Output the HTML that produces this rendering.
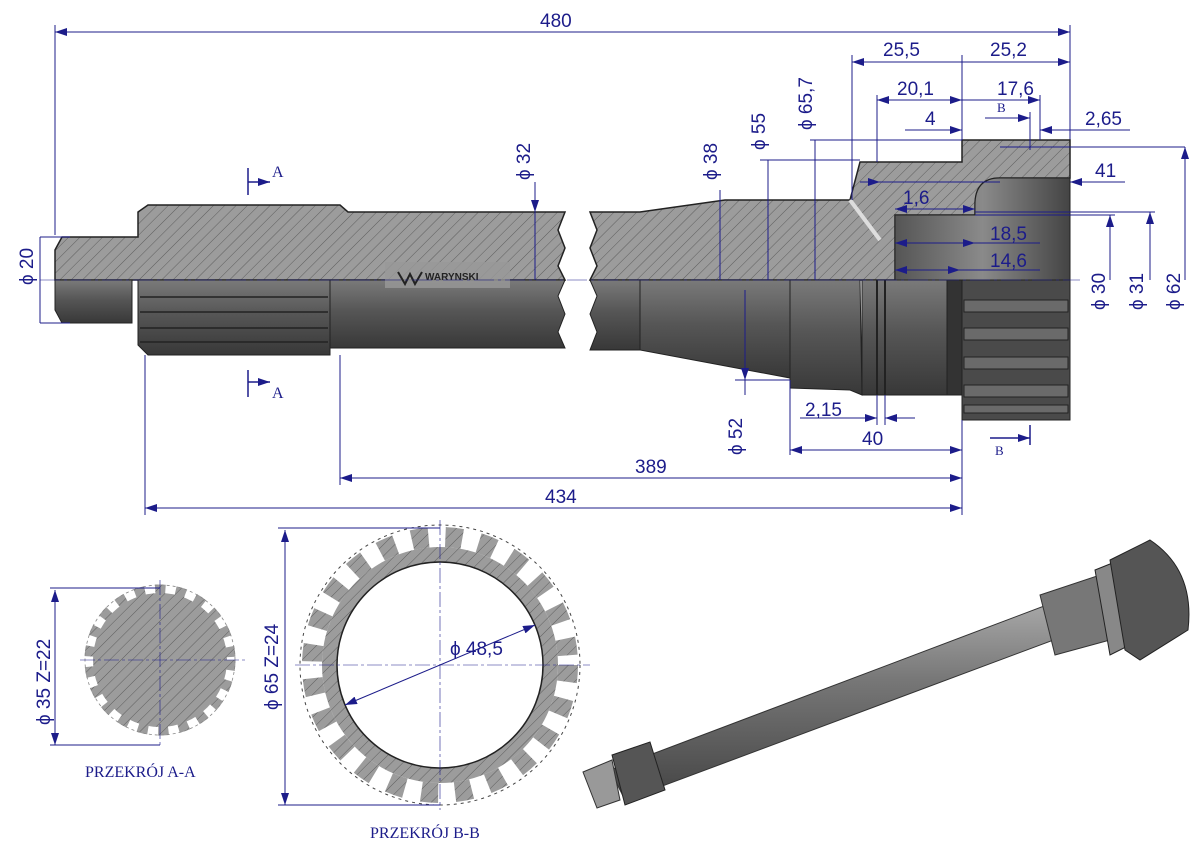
<!DOCTYPE html>
<html><head><meta charset="utf-8"><style>
html,body{margin:0;padding:0;background:#fff;}
svg{display:block;}
text{font-family:"Liberation Sans",sans-serif;fill:#1c1c8a;font-size:19px;}
.s{font-family:"Liberation Serif",serif;font-size:16px;}
</style></head><body>
<svg width="1200" height="849" viewBox="0 0 1200 849" xmlns="http://www.w3.org/2000/svg">
<defs>
<pattern id="h" width="8" height="8" patternUnits="userSpaceOnUse" patternTransform="rotate(45)">
<rect width="8" height="8" fill="#9c9c9c"/><line x1="0" y1="0" x2="0" y2="8" stroke="#5e5e5e" stroke-width="1"/></pattern>
<linearGradient id="g" x1="0" y1="0" x2="0" y2="1">
<stop offset="0" stop-color="#7a7a7a"/><stop offset="0.45" stop-color="#565656"/><stop offset="1" stop-color="#383838"/></linearGradient>
<linearGradient id="g2" x1="0" y1="0" x2="1" y2="0">
<stop offset="0" stop-color="#555"/><stop offset="0.5" stop-color="#8a8a8a"/><stop offset="1" stop-color="#444"/></linearGradient>
<linearGradient id="g3" x1="0" y1="0" x2="0" y2="1">
<stop offset="0" stop-color="#aaa"/><stop offset="0.4" stop-color="#777"/><stop offset="1" stop-color="#444"/></linearGradient>
<marker id="a" markerWidth="12" markerHeight="8" refX="12" refY="4" orient="auto-start-reverse" markerUnits="userSpaceOnUse"><path d="M0,0 L12,4 L0,8z" fill="#1c1c8a"/></marker>
</defs>
<g stroke="#1c1c8a" stroke-width="1" fill="none">
<line x1="55" y1="32" x2="1070" y2="32" marker-start="url(#a)" marker-end="url(#a)"/>
<line x1="55" y1="25" x2="55" y2="235"/><line x1="1070" y1="25" x2="1070" y2="140"/>
</g>
<text x="540" y="27">480</text>

<!-- LEFT shaft upper hatched -->
<path d="M55,280 L55,250 L62,237 L138,237 L138,212 L148,205 L340,205 L348,212 L565,212 L558,230 L565,248 L558,266 L565,280 Z" fill="url(#h)" stroke="#222" stroke-width="1.5"/>
<path d="M55,280 L55,310 L62,323 L132,323 L132,280 Z" fill="url(#g)" stroke="#222"/>
<path d="M138,280 L330,280 L330,355 L148,355 L138,345 Z" fill="url(#g)" stroke="#222"/>
<g stroke="#222" stroke-width="1.5"><line x1="140" y1="297" x2="328" y2="297"/><line x1="140" y1="312" x2="328" y2="312"/><line x1="140" y1="328" x2="328" y2="328"/><line x1="140" y1="342" x2="328" y2="342"/></g>
<path d="M330,280 L565,280 L558,296 L565,314 L558,332 L565,348 L330,348 Z" fill="url(#g)" stroke="#222"/>
<rect x="385" y="262" width="125" height="26" fill="#999" opacity="0.8"/>
<text x="425" y="280" style="font-size:10px;font-weight:bold;fill:#222">WARYNSKI</text>
<path d="M398,272 L405,284 L410,274 L415,284 L422,272" stroke="#222" stroke-width="2" fill="none"/>

<!-- RIGHT shaft -->
<path d="M590,212 L640,212 L725,200 L850,200 L860,162 L962,162 L962,140 L1070,140 L1070,178 L1000,178 Q975,178 975,205 L975,215 L895,215 L895,280 L590,280 L597,266 L590,248 L597,230 Z" fill="url(#h)" stroke="#222" stroke-width="1.5"/>
<path d="M850,200 L880,240" stroke="#ddd" stroke-width="4"/>
<path d="M895,215 L975,215 L975,205 Q975,178 1000,178 L1070,178 L1070,280 L895,280 Z" fill="url(#g2)" stroke="#222"/>
<path d="M590,280 L640,280 L640,350 L590,350 L597,332 L590,314 L597,296 Z" fill="url(#g)" stroke="#222"/>
<path d="M640,280 L790,280 L790,378 L640,350 Z" fill="url(#g)" stroke="#222"/>
<path d="M790,280 L860,280 L862,395 L850,390 L790,388 Z" fill="url(#g)" stroke="#222"/>
<rect x="862" y="280" width="85" height="115" fill="url(#g)" stroke="#222"/>
<line x1="877" y1="280" x2="877" y2="395" stroke="#222" stroke-width="2"/><line x1="885" y1="280" x2="885" y2="395" stroke="#222" stroke-width="2"/>
<rect x="947" y="280" width="15" height="115" fill="#333" stroke="#222"/>
<rect x="962" y="280" width="108" height="140" fill="#4a4a4a" stroke="#222"/>
<g fill="#6a6a6a" stroke="#222">
<rect x="964" y="300" width="104" height="12"/><rect x="964" y="328" width="104" height="12"/><rect x="964" y="357" width="104" height="12"/><rect x="964" y="385" width="104" height="12"/><rect x="964" y="405" width="104" height="8"/></g>

<line x1="40" y1="280" x2="1080" y2="280" stroke="#1c1c8a" stroke-width="0.6" stroke-dasharray="20,4,3,4"/>

<g stroke="#1c1c8a" stroke-width="1" fill="none">
<line x1="535" y1="195" x2="535" y2="280"/><line x1="535" y1="182" x2="535" y2="212" marker-end="url(#a)"/>
<line x1="720" y1="190" x2="720" y2="280"/><line x1="768" y1="160" x2="768" y2="280"/><line x1="815" y1="140" x2="815" y2="280"/>
<line x1="760" y1="160" x2="860" y2="160"/><line x1="810" y1="140" x2="962" y2="140"/>
<line x1="852" y1="62" x2="1070" y2="62" marker-start="url(#a)" marker-end="url(#a)"/>
<line x1="852" y1="55" x2="852" y2="200"/><line x1="962" y1="55" x2="962" y2="140"/>
<line x1="877" y1="100" x2="962" y2="100" marker-start="url(#a)" marker-end="url(#a)"/><line x1="877" y1="95" x2="877" y2="162"/>
<line x1="962" y1="100" x2="1040" y2="100" marker-end="url(#a)"/><line x1="1040" y1="95" x2="1040" y2="140"/>
<line x1="905" y1="130" x2="962" y2="130" marker-end="url(#a)"/><line x1="1040" y1="130" x2="1130" y2="130"/><line x1="1055" y1="130" x2="1040" y2="130" marker-end="url(#a)"/>
<line x1="985" y1="118" x2="1030" y2="118" marker-end="url(#a)"/><line x1="1030" y1="112" x2="1030" y2="150"/>
<line x1="1000" y1="147" x2="1185" y2="147"/><line x1="1185" y1="280" x2="1185" y2="147" marker-end="url(#a)"/>
<line x1="1125" y1="182" x2="1070" y2="182" marker-end="url(#a)"/>
<line x1="880" y1="182" x2="1000" y2="182"/><line x1="860" y1="182" x2="880" y2="182" marker-end="url(#a)"/>
<line x1="895" y1="209" x2="955" y2="209" marker-start="url(#a)"/><line x1="955" y1="209" x2="975" y2="209" marker-end="url(#a)"/>
<line x1="975" y1="215" x2="1115" y2="215"/><line x1="1110" y1="280" x2="1110" y2="215" marker-end="url(#a)"/>
<line x1="975" y1="212" x2="1155" y2="212"/><line x1="1150" y1="280" x2="1150" y2="212" marker-end="url(#a)"/>
<line x1="895" y1="243" x2="1040" y2="243" marker-start="url(#a)"/><line x1="962" y1="243" x2="975" y2="243" marker-end="url(#a)"/>
<line x1="895" y1="270" x2="960" y2="270" marker-start="url(#a)" marker-end="url(#a)"/>
<line x1="895" y1="270" x2="1040" y2="270"/>
<line x1="40" y1="237" x2="70" y2="237"/><line x1="40" y1="237" x2="40" y2="323"/><line x1="40" y1="323" x2="70" y2="323"/>
<line x1="745" y1="290" x2="745" y2="380" marker-end="url(#a)"/><line x1="745" y1="380" x2="745" y2="395"/><line x1="735" y1="380" x2="790" y2="380"/>
<line x1="790" y1="380" x2="790" y2="455"/><line x1="962" y1="420" x2="962" y2="515"/>
<line x1="790" y1="450" x2="962" y2="450" marker-start="url(#a)" marker-end="url(#a)"/>
<line x1="800" y1="418" x2="877" y2="418" marker-end="url(#a)"/><line x1="885" y1="418" x2="915" y2="418"/><line x1="900" y1="418" x2="885" y2="418" marker-end="url(#a)"/>
<line x1="877" y1="395" x2="877" y2="425"/><line x1="885" y1="395" x2="885" y2="425"/>
<line x1="340" y1="478" x2="962" y2="478" marker-start="url(#a)" marker-end="url(#a)"/><line x1="340" y1="355" x2="340" y2="485"/>
<line x1="145" y1="508" x2="962" y2="508" marker-start="url(#a)" marker-end="url(#a)"/><line x1="145" y1="355" x2="145" y2="515"/>
</g>
<g stroke="#1c1c8a" stroke-width="1.5"><line x1="248" y1="168" x2="248" y2="195"/><line x1="248" y1="182" x2="270" y2="182" marker-end="url(#a)"/>
<line x1="248" y1="370" x2="248" y2="397"/><line x1="248" y1="382" x2="270" y2="382" marker-end="url(#a)"/>
<line x1="1030" y1="425" x2="1030" y2="445"/><line x1="990" y1="438" x2="1030" y2="438" marker-end="url(#a)"/></g>
<text class="s" x="272" y="177">A</text><text class="s" x="272" y="398">A</text>
<text class="s" x="997" y="112" style="font-size:13px">B</text><text class="s" x="995" y="455" style="font-size:13px">B</text>
<text x="883" y="56">25,5</text><text x="990" y="56">25,2</text><text x="897" y="95">20,1</text><text x="997" y="95">17,6</text>
<text x="925" y="125">4</text><text x="1085" y="125">2,65</text><text x="1095" y="177">41</text>
<text x="903" y="204">1,6</text><text x="990" y="240">18,5</text><text x="990" y="267">14,6</text>
<text x="805" y="416">2,15</text><text x="862" y="445">40</text><text x="635" y="473">389</text><text x="545" y="503">434</text>
<text transform="translate(33,285) rotate(-90)">ϕ 20</text>
<text transform="translate(530,180) rotate(-90)">ϕ 32</text>
<text transform="translate(717,180) rotate(-90)">ϕ 38</text>
<text transform="translate(765,150) rotate(-90)">ϕ 55</text>
<text transform="translate(812,130) rotate(-90)">ϕ 65,7</text>
<text transform="translate(742,455) rotate(-90)">ϕ 52</text>
<text transform="translate(1105,310) rotate(-90)">ϕ 30</text>
<text transform="translate(1143,310) rotate(-90)">ϕ 31</text>
<text transform="translate(1180,310) rotate(-90)">ϕ 62</text>

<!-- Section A-A -->
<g>
<circle cx="160" cy="660" r="67" fill="url(#h)" stroke="none"/>
<circle cx="160" cy="660" r="71" fill="none" stroke="url(#h)" stroke-width="9" stroke-dasharray="10.3,10.3"/>
<circle cx="160" cy="660" r="75" fill="none" stroke="#888" stroke-width="0.8" stroke-dasharray="3,3"/>
<line x1="80" y1="660" x2="245" y2="660" stroke="#1c1c8a" stroke-width="0.6" stroke-dasharray="15,3,3,3"/>
<line x1="160" y1="580" x2="160" y2="745" stroke="#1c1c8a" stroke-width="0.6" stroke-dasharray="15,3,3,3"/>
<g stroke="#1c1c8a"><line x1="55" y1="590" x2="55" y2="745" marker-start="url(#a)" marker-end="url(#a)"/><line x1="50" y1="588" x2="160" y2="588"/><line x1="50" y1="745" x2="160" y2="745"/></g>
<text transform="translate(50,725) rotate(-90)">ϕ 35  Z=22</text>
<text class="s" x="85" y="777">PRZEKRÓJ A-A</text>
</g>
<!-- Section B-B -->
<g>
<circle cx="440" cy="665" r="118" fill="url(#h)" stroke="none"/>
<circle cx="440" cy="665" r="128" fill="none" stroke="url(#h)" stroke-width="20" stroke-dasharray="16.9,16.9"/>
<circle cx="440" cy="665" r="140" fill="none" stroke="#444" stroke-width="1" stroke-dasharray="3,4"/>
<circle cx="440" cy="665" r="103" fill="#fff" stroke="#222" stroke-width="1.5"/>
<line x1="295" y1="665" x2="590" y2="665" stroke="#1c1c8a" stroke-width="0.6" stroke-dasharray="15,3,3,3"/>
<line x1="440" y1="520" x2="440" y2="810" stroke="#1c1c8a" stroke-width="0.6" stroke-dasharray="15,3,3,3"/>
<line x1="345" y1="705" x2="535" y2="625" stroke="#1c1c8a" marker-start="url(#a)" marker-end="url(#a)"/>
<g stroke="#1c1c8a"><line x1="285" y1="530" x2="285" y2="805" marker-start="url(#a)" marker-end="url(#a)"/><line x1="278" y1="528" x2="440" y2="528"/><line x1="278" y1="805" x2="440" y2="805"/></g>
<text transform="translate(278,710) rotate(-90)">ϕ 65  Z=24</text>
<text x="450" y="655">ϕ 48,5</text>
<text class="s" x="370" y="838">PRZEKRÓJ B-B</text>
</g>
<!-- 3D view -->
<path d="M610,770 L1060,600 L1075,632 L625,800 Z" fill="url(#g3)" stroke="#333"/>
<path d="M1040,595 L1100,575 L1110,640 L1055,655 Z" fill="#777" stroke="#333"/>
<path d="M583,772 L612,760 L620,800 L597,808 Z" fill="#999" stroke="#333"/>
<path d="M612,755 L650,742 L665,790 L625,805 Z" fill="#555" stroke="#222"/>
<path d="M1095,570 L1115,562 L1130,645 L1110,655 Z" fill="#888" stroke="#222"/>
<path d="M1110,560 L1150,540 Q1195,570 1188,630 L1140,660 L1125,650 Z" fill="#555" stroke="#222"/>
</svg>
</body></html>
